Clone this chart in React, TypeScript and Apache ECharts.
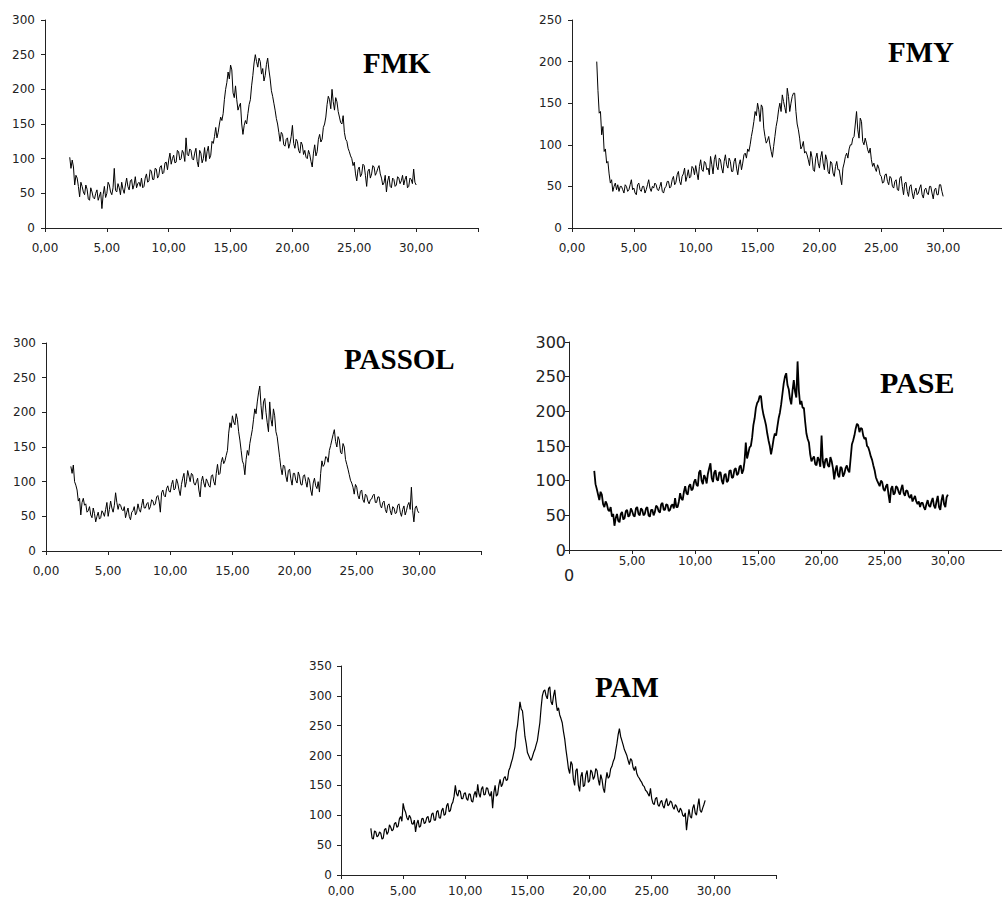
import React, { useEffect, useRef } from "react";
import * as echarts from "echarts";

// 2-theta sample positions (degrees)
const twoTheta = [
  2.0, 2.1, 2.2, 2.3, 2.4, 2.5, 2.6, 2.7, 2.8, 2.9,
  3.0, 3.1, 3.2, 3.3, 3.4, 3.5, 3.6, 3.7, 3.8, 3.9,
  4.0, 4.1, 4.2, 4.3, 4.4, 4.5, 4.6, 4.7, 4.8, 4.9,
  5.0, 5.1, 5.2, 5.3, 5.4, 5.5, 5.6, 5.7, 5.8, 5.9,
  6.0, 6.1, 6.2, 6.3, 6.4, 6.5, 6.6, 6.7, 6.8, 6.9,
  7.0, 7.1, 7.2, 7.3, 7.4, 7.5, 7.6, 7.7, 7.8, 7.9,
  8.0, 8.1, 8.2, 8.3, 8.4, 8.5, 8.6, 8.7, 8.8, 8.9,
  9.0, 9.1, 9.2, 9.3, 9.4, 9.5, 9.6, 9.7, 9.8, 9.9,
  10.0, 10.1, 10.2, 10.3, 10.4, 10.5, 10.6, 10.7, 10.8, 10.9,
  11.0, 11.1, 11.2, 11.3, 11.4, 11.5, 11.6, 11.7, 11.8, 11.9,
  12.0, 12.1, 12.2, 12.3, 12.4, 12.5, 12.6, 12.7, 12.8, 12.9,
  13.0, 13.1, 13.2, 13.3, 13.4, 13.5, 13.6, 13.7, 13.8, 13.9,
  14.0, 14.1, 14.2, 14.3, 14.4, 14.5, 14.6, 14.7, 14.8, 14.9,
  15.0, 15.1, 15.2, 15.3, 15.4, 15.5, 15.6, 15.7, 15.8, 15.9,
  16.0, 16.1, 16.2, 16.3, 16.4, 16.5, 16.6, 16.7, 16.8, 16.9,
  17.0, 17.1, 17.2, 17.3, 17.4, 17.5, 17.6, 17.7, 17.8, 17.9,
  18.0, 18.1, 18.2, 18.3, 18.4, 18.5, 18.6, 18.7, 18.8, 18.9,
  19.0, 19.1, 19.2, 19.3, 19.4, 19.5, 19.6, 19.7, 19.8, 19.9,
  20.0, 20.1, 20.2, 20.3, 20.4, 20.5, 20.6, 20.7, 20.8, 20.9,
  21.0, 21.1, 21.2, 21.3, 21.4, 21.5, 21.6, 21.7, 21.8, 21.9,
  22.0, 22.1, 22.2, 22.3, 22.4, 22.5, 22.6, 22.7, 22.8, 22.9,
  23.0, 23.1, 23.2, 23.3, 23.4, 23.5, 23.6, 23.7, 23.8, 23.9,
  24.0, 24.1, 24.2, 24.3, 24.4, 24.5, 24.6, 24.7, 24.8, 24.9,
  25.0, 25.1, 25.2, 25.3, 25.4, 25.5, 25.6, 25.7, 25.8, 25.9,
  26.0, 26.1, 26.2, 26.3, 26.4, 26.5, 26.6, 26.7, 26.8, 26.9,
  27.0, 27.1, 27.2, 27.3, 27.4, 27.5, 27.6, 27.7, 27.8, 27.9,
  28.0, 28.1, 28.2, 28.3, 28.4, 28.5, 28.6, 28.7, 28.8, 28.9,
  29.0, 29.1, 29.2, 29.3, 29.4, 29.5, 29.6, 29.7, 29.8, 29.9,
  30.0,
];

const fmk = [
  102, 86, 98, 88, 62, 76, 72, 60, 45, 66,
  60, 52, 48, 62, 56, 42, 40, 58, 52, 44,
  42, 50, 55, 40, 46, 52, 28, 48, 60, 44,
  50, 66, 62, 52, 48, 58, 86, 54, 52, 64,
  58, 48, 66, 56, 50, 62, 72, 60, 55, 68,
  70, 56, 62, 74, 58, 64, 66, 60, 72, 58,
  60, 72, 78, 66, 68, 84, 82, 70, 70, 86,
  85, 72, 76, 88, 90, 78, 80, 94, 95, 84,
  98, 108, 92, 100, 105, 94, 95, 112, 110, 98,
  100, 112, 108, 96, 130, 106, 104, 114, 112, 100,
  98, 108, 115, 96, 88, 112, 108, 94, 100, 116,
  96, 110, 118, 100, 105, 125, 122, 132, 145, 130,
  138, 150, 160, 155, 165, 185, 200, 210, 225, 215,
  235, 228, 195, 188, 205, 185, 170, 176, 180, 150,
  135, 148, 155, 150, 165, 178, 185, 205, 220, 238,
  250, 240, 232, 245, 240, 222, 230, 212, 220, 236,
  245, 228, 215, 198, 190, 180, 170, 158, 150, 138,
  125, 138, 135, 120, 118, 128, 130, 115, 122, 132,
  148, 122, 115, 128, 125, 112, 108, 124, 120, 106,
  112, 102, 100, 112, 106, 96, 88, 108, 120, 104,
  110, 128, 135, 124, 128, 145, 150, 160, 178, 190,
  185, 172, 200, 182, 170, 188, 182, 168, 160, 152,
  150, 162, 138, 128, 125, 115, 110, 104, 100, 90,
  95, 78, 68, 84, 88, 74, 78, 92, 90, 76,
  60, 82, 85, 72, 78, 90, 88, 76, 80, 86,
  90, 78, 72, 62, 65, 76, 52, 68, 75, 60,
  58, 72, 70, 60, 62, 74, 72, 64, 68, 76,
  62, 70, 75, 58, 60, 72, 70, 64, 85, 66,
  62,
];

const fmy = [
  200, 165, 138, 140, 112, 122, 92, 95, 78, 80,
  65, 54, 58, 44, 50, 54, 46, 52, 44, 50,
  50, 46, 42, 52, 50, 44, 46, 52, 58, 46,
  48, 42, 40, 52, 54, 46, 44, 50, 50, 42,
  46, 52, 58, 48, 44, 50, 48, 54, 52, 46,
  45, 50, 55, 44, 42, 48, 50, 56, 56, 48,
  50, 58, 62, 52, 55, 64, 68, 56, 52, 62,
  65, 72, 56, 62, 70, 60, 62, 74, 72, 64,
  75, 66, 58, 74, 82, 70, 68, 80, 78, 70,
  72, 64, 86, 76, 65, 82, 88, 74, 70, 84,
  82, 72, 66, 80, 88, 76, 72, 84, 80, 68,
  68, 80, 84, 72, 64, 76, 82, 70, 78, 88,
  90, 84, 95, 92, 100, 110, 118, 128, 140, 135,
  150, 142, 128, 148, 145, 120, 110, 102, 105, 110,
  100, 92, 85, 98, 110, 122, 130, 142, 150, 140,
  160, 152, 145, 138, 168, 158, 140, 150, 158, 162,
  162, 140, 125, 118, 108, 95, 98, 104, 90, 92,
  88, 82, 75, 92, 85, 70, 68, 84, 90, 78,
  72, 85, 92, 78, 70, 88, 82, 68, 65, 80,
  78, 66, 62, 74, 80, 70, 70, 60, 52, 72,
  78, 86, 90, 84, 95, 100, 100, 108, 110, 125,
  140, 118, 108, 132, 128, 104, 100, 108, 102, 94,
  90, 96, 82, 74, 78, 72, 68, 76, 72, 64,
  62, 54, 55, 64, 65, 56, 52, 62, 60, 50,
  48, 56, 58, 46, 45, 60, 62, 50, 40, 54,
  55, 44, 38, 50, 52, 42, 35, 44, 48, 40,
  42, 48, 52, 40, 36, 46, 48, 42, 40, 50,
  50, 42, 35, 46, 48, 40, 40, 52, 52, 44,
  38,
];

const passol = [
  122, 112, 124, 100, 95, 88, 72, 76, 52, 70,
  76, 66, 68, 56, 58, 64, 52, 48, 62, 54,
  42, 50, 56, 46, 48, 58, 55, 50, 60, 70,
  50, 60, 72, 62, 56, 66, 84, 70, 60, 68,
  66, 60, 58, 64, 48, 56, 62, 50, 45, 56,
  58, 64, 52, 56, 68, 60, 56, 66, 75, 62,
  62, 68, 70, 60, 64, 74, 72, 66, 68, 78,
  80, 72, 56, 84, 88, 80, 78, 90, 94, 86,
  85, 96, 102, 88, 90, 104, 98, 88, 80, 96,
  105, 112, 92, 100, 116, 108, 100, 112, 110, 98,
  95, 100, 105, 88, 78, 100, 108, 98, 92, 104,
  100, 94, 92, 108, 110, 100, 95, 112, 125, 110,
  112, 128, 135, 126, 130, 138, 145, 170, 185, 178,
  195, 186, 182, 198, 190, 172, 160, 145, 130, 125,
  110, 132, 145, 138, 155, 165, 175, 190, 205, 198,
  215, 228, 238, 210, 190, 215, 220, 200, 185, 172,
  215, 190, 180, 205, 195, 172, 165, 150, 135, 120,
  110, 124, 122, 108, 100, 116, 118, 104, 95, 112,
  112, 102, 98, 114, 108, 96, 95, 108, 110, 100,
  92, 106, 102, 88, 80, 98, 105, 94, 90, 100,
  85, 112, 130, 122, 125, 136, 135, 128, 145, 152,
  160, 168, 175, 158, 150, 165, 160, 142, 140, 155,
  150, 132, 125, 118, 110, 102, 98, 92, 82, 96,
  92, 80, 75, 86, 88, 74, 70, 82, 80, 72,
  68, 74, 75, 80, 82, 70, 70, 78, 78, 66,
  62, 70, 72, 60, 55, 66, 68, 58, 52, 64,
  62, 54, 55, 66, 68, 56, 50, 60, 65, 52,
  58, 66, 70, 60, 92, 58, 42, 62, 65, 58,
  55,
];

const pase = [
  114, 95, 88, 80, 72, 84, 80, 66, 62, 70,
  66, 58, 56, 62, 48, 52, 35, 46, 52, 42,
  40, 52, 55, 44, 46, 56, 58, 48, 50, 60,
  56, 50, 48, 60, 62, 52, 50, 60, 58, 50,
  52, 60, 62, 50, 48, 58, 58, 50, 55, 64,
  62, 56, 54, 66, 68, 58, 58, 66, 65, 56,
  58, 64, 66, 60, 75, 62, 62, 70, 82, 74,
  72, 84, 92, 82, 80, 92, 95, 86, 88, 98,
  102, 94, 92, 112, 115, 100, 95, 108, 104, 96,
  110, 118, 125, 104, 98, 112, 115, 102, 100, 112,
  112, 100, 95, 108, 110, 98, 100, 114, 115, 104,
  105, 116, 118, 108, 110, 120, 122, 110, 115, 128,
  155, 132, 140, 148, 150, 162, 180, 190, 205, 212,
  215, 222, 222, 205, 195, 188, 180, 168, 158, 150,
  138, 148, 160, 168, 165, 178, 190, 198, 210, 225,
  240, 250, 255, 238, 232, 218, 210, 230, 245, 228,
  220, 272, 230, 210, 215, 205, 205, 185, 168, 160,
  155, 138, 128, 132, 135, 124, 122, 134, 130, 120,
  165, 128, 118, 130, 132, 122, 120, 134, 128, 118,
  102, 115, 122, 108, 105, 120, 118, 106, 110, 118,
  122, 115, 112, 132, 152, 158, 165, 175, 182, 180,
  170, 176, 175, 165, 160, 162, 150, 148, 142, 135,
  130, 122, 115, 105, 100, 96, 92, 100, 98, 88,
  85, 92, 95, 80, 68, 88, 92, 80, 82, 92,
  90, 84, 80, 88, 94, 82, 78, 86, 85, 78,
  75, 80, 70, 74, 78, 70, 66, 70, 62, 68,
  68, 62, 58, 66, 72, 64, 62, 70, 75, 64,
  60, 70, 78, 62, 58, 72, 80, 66, 62, 76,
  80,
];

const pam = [
  null, null, null, null, 78, 62, 60, 74, 72, 64,
  66, 72, 70, 60, 62, 76, 78, 68, 72, 84,
  80, 74, 76, 86, 88, 80, 82, 94, 98, 90,
  120, 110, 105, 96, 92, 100, 96, 86, 85, 92,
  72, 86, 92, 80, 82, 94, 95, 86, 88, 96,
  98, 88, 90, 102, 104, 92, 92, 106, 108, 96,
  95, 108, 112, 100, 102, 116, 120, 106, 108, 118,
  122, 132, 150, 136, 132, 142, 140, 128, 128, 136,
  138, 128, 125, 136, 135, 124, 122, 134, 140, 130,
  152, 136, 130, 144, 148, 134, 135, 146, 145, 136,
  132, 140, 112, 138, 150, 132, 135, 150, 160, 148,
  152, 162, 165, 158, 160, 175, 180, 188, 195, 205,
  215, 238, 250, 270, 290, 278, 275, 255, 232, 220,
  205, 200, 195, 192, 198, 205, 210, 218, 225, 240,
  255, 280, 300, 308, 310, 300, 295, 312, 315, 290,
  285, 300, 310, 290, 275, 280, 268, 262, 255, 240,
  228, 210, 195, 178, 170, 190, 185, 160, 150, 175,
  178, 150, 140, 165, 172, 148, 150, 168, 175, 155,
  158, 176, 172, 160, 165, 178, 175, 160, 150, 168,
  160, 145, 138, 158, 172, 162, 165, 178, 182, 190,
  195, 208, 220, 235, 245, 232, 225, 218, 210, 205,
  200, 192, 185, 195, 192, 180, 175, 182, 170, 165,
  162, 158, 155, 150, 148, 142, 140, 136, 132, 145,
  128, 120, 118, 128, 130, 118, 115, 122, 125, 116,
  112, 122, 128, 116, 118, 124, 122, 114, 110, 118,
  115, 108, 105, 112, 108, 100, 98, 104, 75, 95,
  110, 98, 95, 112, 118, 104, 100, 115, 128, 108,
  105, 112, 118, 125, null, null, null, null, null, null,
  null,
];

const panels = [
  { name: "FMK", values: fmk, yMax: 300, left: 45, top: 20, width: 433, height: 208, lw: 1, big: false, tx: 363, ty: 63, ts: 29, xm: 14, ym: 10 },
  { name: "FMY", values: fmy, yMax: 250, left: 572, top: 20, width: 433, height: 208, lw: 1, big: false, tx: 888, ty: 52, ts: 29, xm: 14, ym: 10 },
  { name: "PASSOL", values: passol, yMax: 300, left: 46, top: 343, width: 435, height: 208, lw: 1, big: false, tx: 344, ty: 359, ts: 29, xm: 14, ym: 10 },
  { name: "PASE", values: pase, yMax: 300, left: 569, top: 342, width: 442, height: 208, lw: 1.8, big: true, tx: 880, ty: 382, ts: 30, xm: 5, ym: 3 },
  { name: "PAM", values: pam, yMax: 350, left: 341, top: 666, width: 435, height: 209, lw: 1.2, big: false, tx: 595, ty: 687, ts: 29, xm: 10, ym: 9 },
];

const SANS = "DejaVu Sans";
const AX = "#222";

function fmt(v: number) {
  return v.toFixed(2).replace(".", ",");
}

export default function App() {
  const ref = useRef<HTMLDivElement>(null);
  useEffect(() => {
    if (!ref.current) return;
    const chart = echarts.init(ref.current, undefined, { renderer: "svg" });
    const option: any = {
      animation: false,
      backgroundColor: "#fff",
      grid: panels.map((p) => ({
        left: p.left,
        top: p.top,
        width: p.width,
        height: p.height,
        containLabel: false,
        outerBoundsMode: "none",
      })),
      xAxis: panels.map((p, i) => ({
        type: "value",
        gridIndex: i,
        min: 0,
        max: 35,
        interval: 5,
        splitLine: { show: false },
        axisLine: { lineStyle: { color: AX, width: 1 } },
        axisTick: { show: true, length: 4, lineStyle: { color: AX } },
        axisLabel: {
          margin: p.xm,
          fontFamily: SANS,
          fontSize: 12,
          color: "#222",
          showMaxLabel: true,
          formatter: (v: number) => {
            if (v >= 35) return "";
            if (p.big && v === 0) return "{z|0}";
            return fmt(v);
          },
          rich: { z: { fontSize: 16, fontFamily: SANS, color: "#222", padding: [12, 0, 0, 0] } },
        },
      })),
      yAxis: panels.map((p, i) => ({
        type: "value",
        gridIndex: i,
        min: 0,
        max: p.yMax,
        interval: 50,
        splitLine: { show: false },
        axisLine: { show: true, lineStyle: { color: AX, width: 1 } },
        axisTick: { show: true, length: 4, lineStyle: { color: AX } },
        axisLabel: {
          margin: p.ym,
          fontFamily: SANS,
          fontSize: p.big ? 16 : 12,
          color: "#222",
        },
      })),
      series: panels.map((p, i) => ({
        type: "line",
        name: p.name,
        xAxisIndex: i,
        yAxisIndex: i,
        showSymbol: false,
        symbol: "none",
        connectNulls: false,
        lineStyle: { color: "#000", width: p.lw },
        data: twoTheta.map((x, k) => [x, p.values[k]]),
      })),
      graphic: panels.map((p) => ({
        type: "text",
        x: p.tx,
        y: p.ty,
        style: {
          text: p.name,
          fill: "#000",
          fontFamily: "Liberation Serif",
          fontWeight: "bold",
          fontSize: p.ts,
          verticalAlign: "middle",
          align: "left",
        },
      })),
    };
    chart.setOption(option);
    return () => chart.dispose();
  }, []);
  return (
    <div
      ref={ref}
      style={{ position: "fixed", left: 0, top: 0, width: 1002, height: 901, background: "#fff" }}
    />
  );
}
